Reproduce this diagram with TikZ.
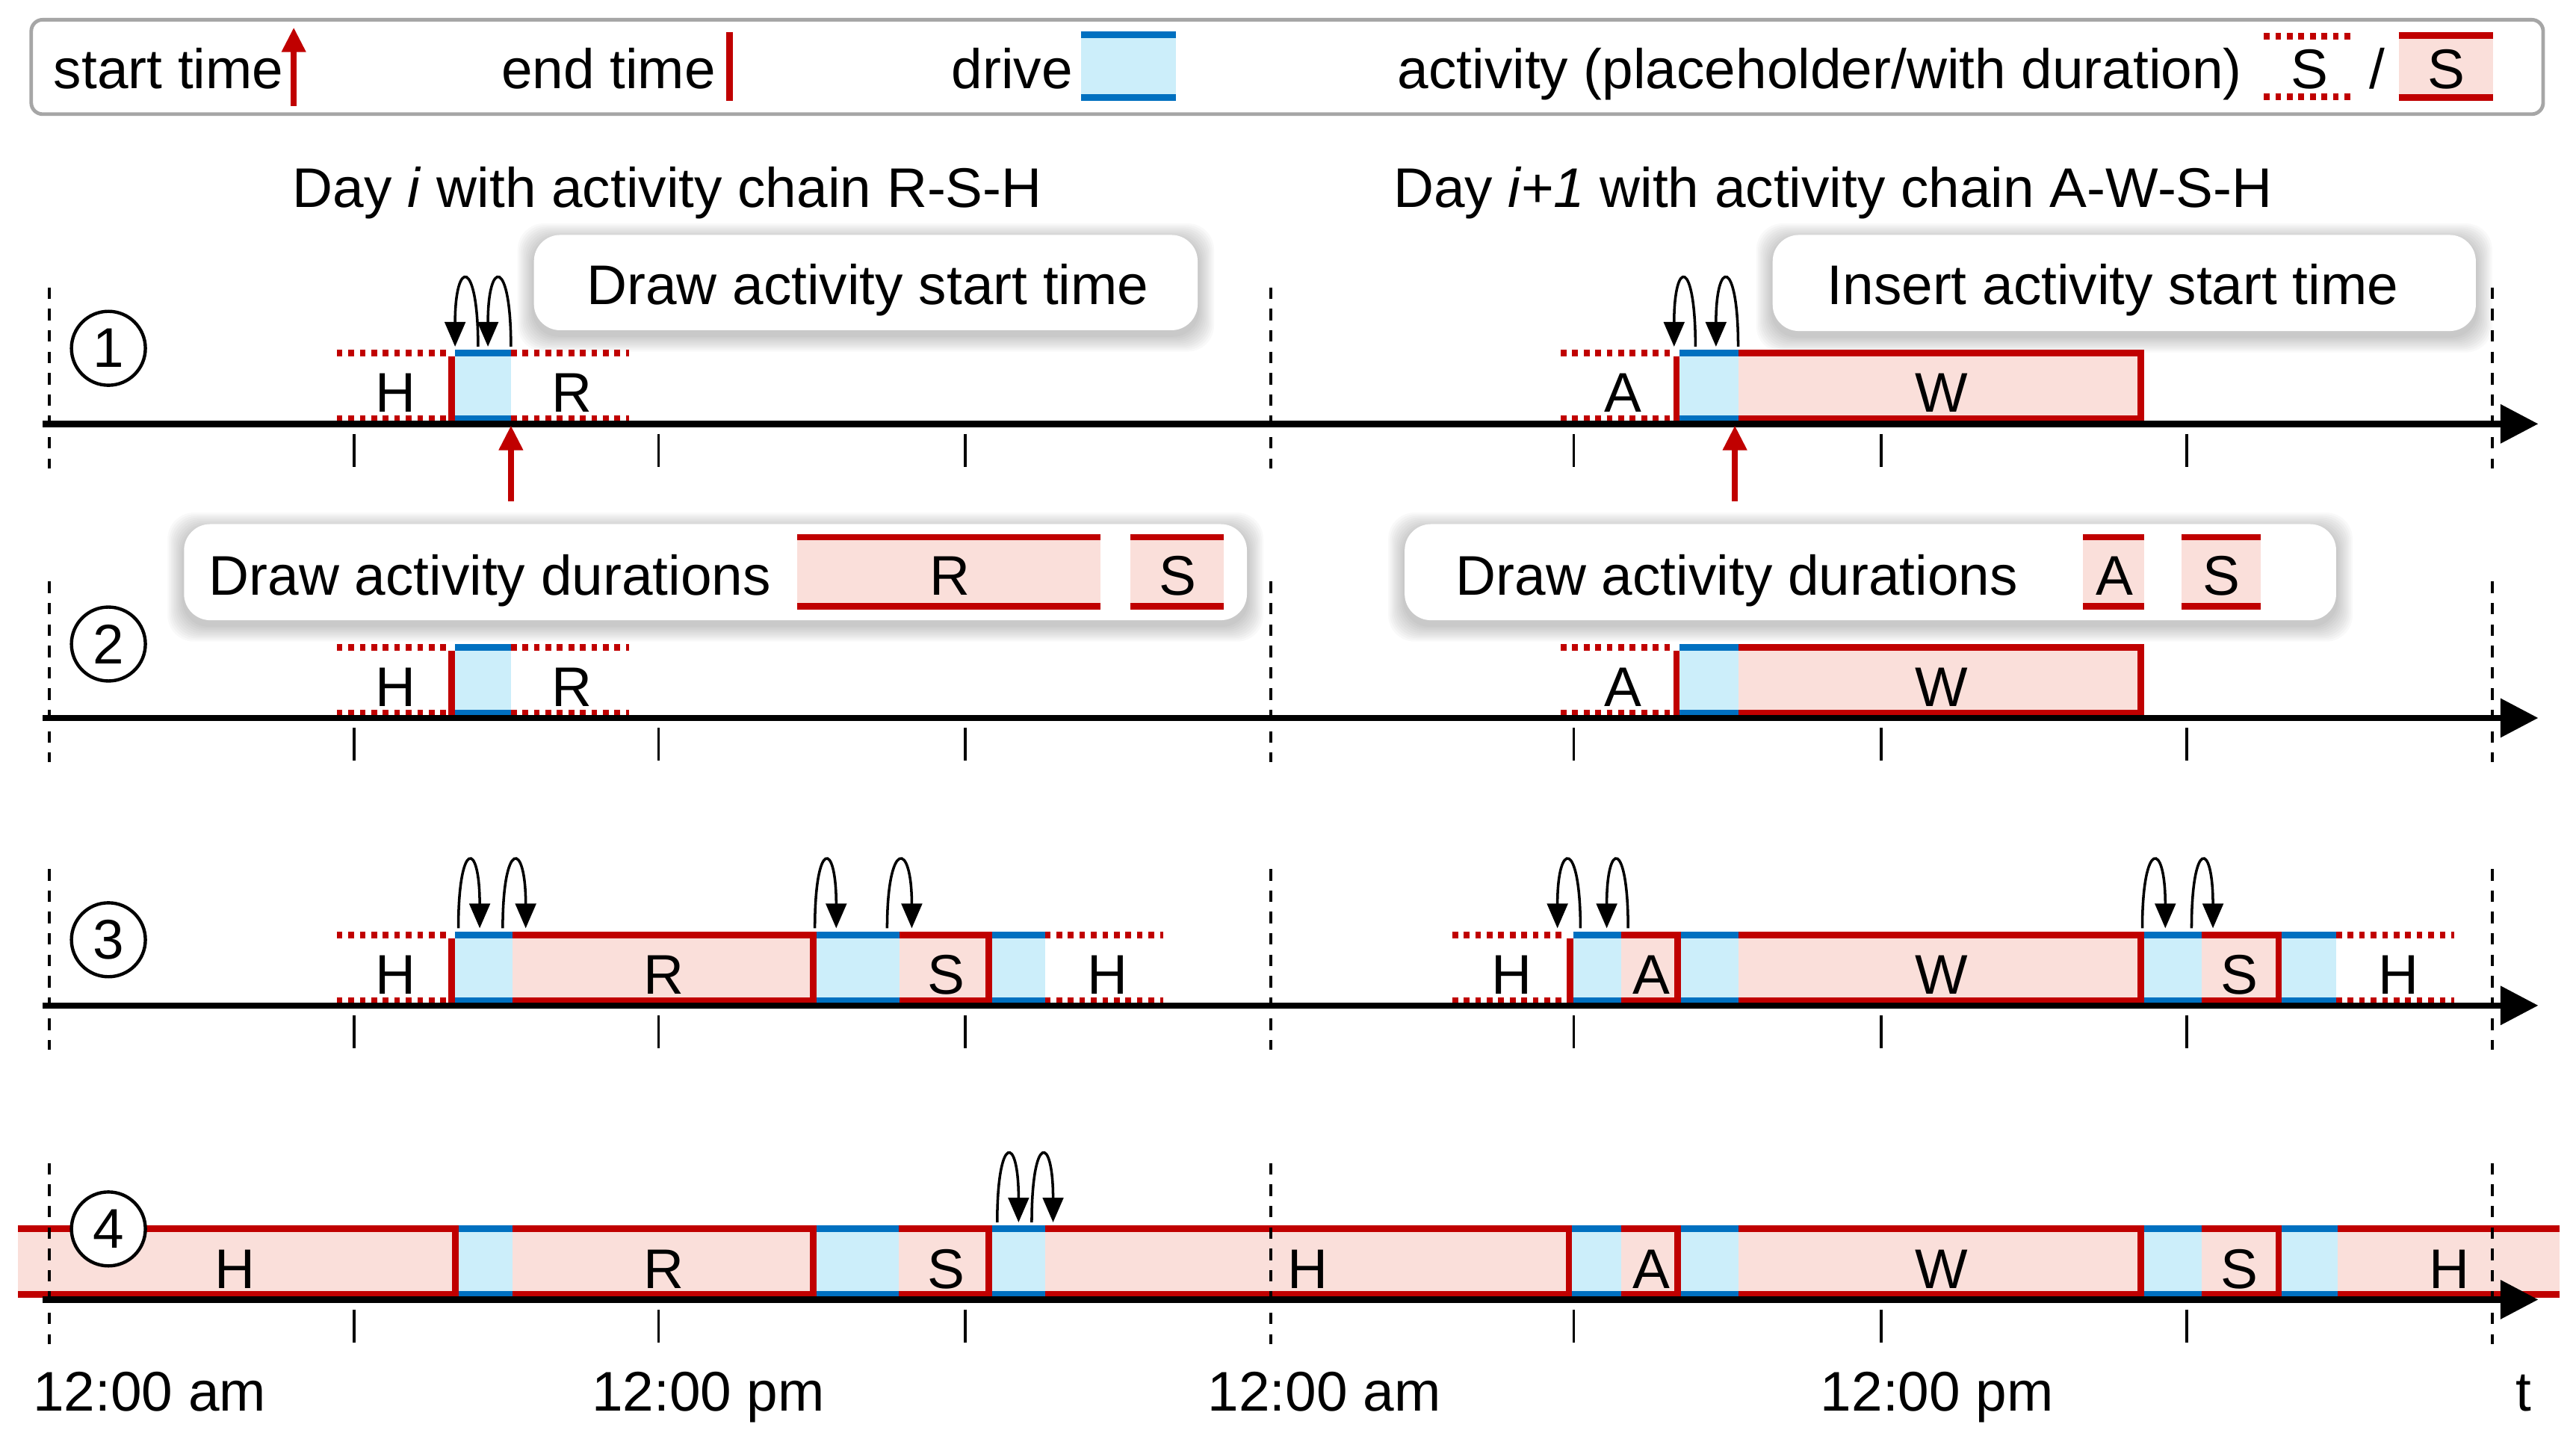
\documentclass[tikz,border=0pt]{standalone}
\usepackage{fontspec}
\setmainfont{Liberation Sans}
\usetikzlibrary{arrows.meta}
\definecolor{cred}{HTML}{C00000}
\definecolor{cblue}{HTML}{0070C0}
\definecolor{clblue}{HTML}{CCEEFA}
\definecolor{cpink}{HTML}{FADFDA}
\definecolor{cgray}{HTML}{A6A6A6}
\newcounter{nd}
\tikzset{
 every node/.style={font=\fontsize{34}{40}\selectfont, inner sep=0pt},
 lab/.style={anchor=base},
 txt/.style={anchor=base west},
 drvline/.style={draw=cblue,line width=4pt},
 actline/.style={draw=cred,line width=4pt},
 phline/.style={draw=cred,line width=4pt,dash pattern=on 3.5pt off 3.5pt},
 endline/.style={draw=cred,line width=4pt},
 axisline/.style={line width=3.8pt,-{Triangle[length=23pt,width=23pt]}},
 tickline/.style={line width=1.5pt},
 dayline/.style={line width=1.5pt,dash pattern=on 7pt off 6pt},
 looparrow/.style={line width=1.6pt,-{Triangle[length=15pt,width=12.5pt]}},
 startarrow/.style={draw=cred,line width=3.5pt,-{Triangle[length=15pt,width=14pt]}},
 numcirc/.style={circle,draw,line width=2pt,minimum size=45pt,fill=white,inner sep=0pt},
}
% drive box: axis, x1, x2
\newcommand\drv[3]{%
 \fill[clblue] (#2,#1-45) rectangle (#3,#1-1);
 \draw[drvline] (#2,#1-43) -- (#3,#1-43) (#2,#1-3) -- (#3,#1-3);}
% activity with duration: axis, x1, x2, label x, label
\newcommand\act[5]{%
 \fill[cpink] (#2,#1-45) rectangle (#3,#1-1);
 \draw[actline] (#2,#1-43) -- (#3-2,#1-43) -- (#3-2,#1-3) -- (#2,#1-3);
 \stepcounter{nd}\node[lab] (n\arabic{nd}) at (#4,#1-7) {#5};}
% activity without right border
\newcommand\actnb[5]{%
 \fill[cpink] (#2,#1-45) rectangle (#3,#1-1);
 \draw[actline] (#2,#1-43) -- (#3,#1-43) (#3,#1-3) -- (#2,#1-3);
 \stepcounter{nd}\node[lab] (n\arabic{nd}) at (#4,#1-7) {#5};}
% placeholder activity
\newcommand\plc[5]{%
 \draw[phline] (#2,#1-43) -- (#3,#1-43) (#2,#1-3) -- (#3,#1-3);
 \stepcounter{nd}\node[lab] (n\arabic{nd}) at (#4,#1-7) {#5};}
% end-time bar
\newcommand\ebar[2]{\draw[endline] (#2,#1-41) -- (#2,#1);}
% loop arrow: axis, tail x, head x
\newcommand\lp[3]{%
 \draw[looparrow] (#2,#1-47) .. controls (#2,#1-101) and (#3,#1-101) .. (#3,#1-47);}
% axis with ticks and day lines
\newcommand\taxis[1]{%
 \foreach \dx in {30,773.5,1517} {\draw[dayline] (\dx,#1-83) -- (\dx,#1+27);}
 \draw[axisline] (26,#1) -- (1545,#1);
 \foreach \tx in {215.5,401,587.5,958,1145,1331} {\draw[tickline] (\tx,#1+6) -- (\tx,#1+26);}}
% shadowed text box
\newcommand\tbox[4]{%
 \foreach \k in {1,...,10}{\fill[black,opacity=0.022,rounded corners=16pt] ({#1-\k},{#2-\k+3}) rectangle ({#3+\k},{#4+\k+3});}
 \fill[white,rounded corners=16pt] (#1,#2) rectangle (#3,#4);}

\begin{document}
\begin{tikzpicture}[x=1pt,y=-1pt]
\useasboundingbox (0,0) rectangle (1568,874);

% ---------- legend ----------
\draw[cgray,line width=2.2pt,fill=white,rounded corners=7pt] (19,12) rectangle (1548,69.5);
\node[txt] (lstart) at (32.5,54) {start time};
\coordinate (lsa) at (178.8,64.4);
\coordinate (lsb) at (178.8,16.7);
\draw[startarrow,line width=3.6pt] (lsa) -- (lsb);
\node[txt] (lend) at (305,54) {end time};
\draw[endline] (444,19.7) -- (444,61.4);
\node[txt] (ldrive) at (579,54) {drive};
\fill[clblue] (658,19) rectangle (716,61.5);
\draw[drvline] (658,21) -- (716,21) (658,59.5) -- (716,59.5);
\node[txt] (lact) at (850.5,54) {activity (placeholder/with duration)};
\draw[phline] (1378,22) -- (1434,22) (1378,59) -- (1434,59);
\node[lab] (ls1) at (1406,54) {S};
\node[lab] (lsl) at (1447,54) {/};
\fill[cpink] (1460,19.5) rectangle (1517.5,61.5);
\draw[actline] (1460,21.5) -- (1517.5,21.5) (1460,59.5) -- (1517.5,59.5);
\node[lab] (ls2) at (1489,54) {S};

% ---------- day titles ----------
\node[txt] (day1) at (178,126) {Day \textit{i} with activity chain R-S-H};
\node[txt] (day2) at (848,126) {Day \textit{i+1} with activity chain A-W-S-H};

% ---------- row 1 ----------
\tbox{325}{143}{729}{201}
\node[txt] (t1a) at (357,185.5) {Draw activity start time};
\tbox{1079}{143}{1507}{201.5}
\node[txt] (t1b) at (1112,185.5) {Insert activity start time};
\node[numcirc] (c1) at (66,212) {1};
\plc{258}{205}{273}{241}{H}
\ebar{258}{275}
\drv{258}{277}{311}
\plc{258}{311}{383}{348}{R}
\plc{258}{950}{1018.5}{988}{A}
\ebar{258}{1020.5}
\drv{258}{1022.5}{1058}
\act{258}{1058}{1305}{1182}{W}
\taxis{258}
\lp{258}{291}{277}
\lp{258}{311}{297}
\lp{258}{1032}{1019}
\lp{258}{1058}{1044.5}
\coordinate (sa1) at (311,305);
\coordinate (sb1) at (311,259);
\draw[startarrow] (sa1) -- (sb1);
\coordinate (sa2) at (1056,305);
\coordinate (sb2) at (1056,259);
\draw[startarrow] (sa2) -- (sb2);

% ---------- row 2 ----------
\tbox{112}{319}{759}{377.5}
\node[txt] (t2a) at (127,362) {Draw activity durations};
\fill[cpink] (485,325) rectangle (670,371);
\draw[actline] (485,327) -- (670,327) (485,369) -- (670,369);
\node[lab] (r2r) at (578,362) {R};
\fill[cpink] (688,325) rectangle (745,371);
\draw[actline] (688,327) -- (745,327) (688,369) -- (745,369);
\node[lab] (r2s) at (717,362) {S};
\tbox{855}{319}{1422}{377.5}
\node[txt] (t2b) at (886,362) {Draw activity durations};
\fill[cpink] (1268,325) rectangle (1305,371);
\draw[actline] (1268,327) -- (1305,327) (1268,369) -- (1305,369);
\node[lab] (r2a) at (1287,362) {A};
\fill[cpink] (1328,325) rectangle (1376,371);
\draw[actline] (1328,327) -- (1376,327) (1328,369) -- (1376,369);
\node[lab] (r2s2) at (1352,362) {S};
\node[numcirc] (c2) at (66,392) {2};
\plc{437}{205}{273}{241}{H}
\ebar{437}{275}
\drv{437}{277}{311}
\plc{437}{311}{383}{348}{R}
\plc{437}{950}{1018.5}{988}{A}
\ebar{437}{1020.5}
\drv{437}{1022.5}{1058}
\act{437}{1058}{1305}{1182}{W}
\taxis{437}

% ---------- row 3 ----------
\node[numcirc] (c3) at (66,572) {3};
\plc{612}{205}{273}{241}{H}
\ebar{612}{275}
\drv{612}{277}{312}
\act{612}{312}{497}{404}{R}
\drv{612}{497}{547.5}
\act{612}{547.5}{604}{576}{S}
\drv{612}{604}{636}
\plc{612}{636}{708}{674}{H}
\plc{612}{884}{952}{920}{H}
\ebar{612}{955.5}
\drv{612}{957.5}{987}
\act{612}{987}{1023}{1005}{A}
\drv{612}{1023}{1058}
\act{612}{1058}{1305}{1182}{W}
\drv{612}{1305}{1340}
\act{612}{1340}{1389}{1363}{S}
\drv{612}{1389}{1422}
\plc{612}{1422}{1494}{1460}{H}
\taxis{612}
\lp{612}{279}{292}
\lp{612}{306}{320}
\lp{612}{496}{509}
\lp{612}{540}{555}
\lp{612}{962}{948}
\lp{612}{991}{978}
\lp{612}{1304}{1318}
\lp{612}{1334}{1347}

% ---------- row 4 ----------
\act{791}{11}{279}{143}{H}
\drv{791}{279}{312}
\act{791}{312}{497}{404}{R}
\drv{791}{497}{547}
\act{791}{547}{604}{576}{S}
\drv{791}{604}{636}
\act{791}{636}{957}{796}{H}
\drv{791}{957}{987}
\act{791}{987}{1023}{1005}{A}
\drv{791}{1023}{1058}
\act{791}{1058}{1305}{1182}{W}
\drv{791}{1305}{1340}
\act{791}{1340}{1389}{1363}{S}
\drv{791}{1389}{1423}
\actnb{791}{1423}{1558}{1491}{H}
\taxis{791}
\node[numcirc] (c4) at (66,748) {4};
\lp{791}{607}{620}
\lp{791}{628}{641}

% ---------- time labels ----------
\node[txt] (tl1) at (20,858.6) {12:00 am};
\node[txt] (tl2) at (360,858.6) {12:00 pm};
\node[txt] (tl3) at (735,858.6) {12:00 am};
\node[txt] (tl4) at (1108,858.6) {12:00 pm};
\node[txt] (tl5) at (1531,858.6) {t};
\end{tikzpicture}
\end{document}
